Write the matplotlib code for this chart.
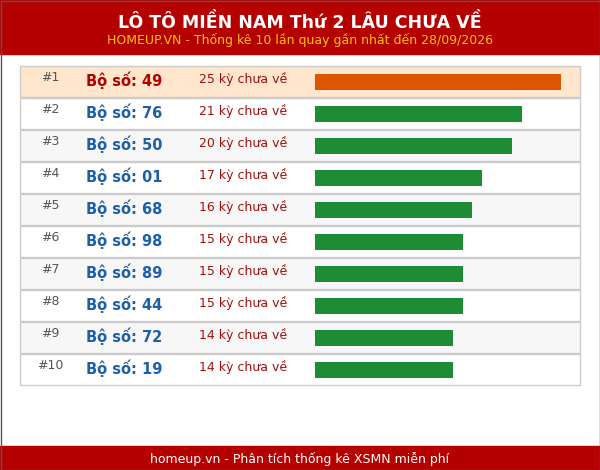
import matplotlib.pyplot as plt
from matplotlib.patches import Rectangle

title = "LÔ TÔ MIỀN NAM Thứ 2 LÂU CHƯA VỀ"
subtitle = "HOMEUP.VN - Thống kê 10 lần quay gần nhất đến 28/09/2026"
footer = "homeup.vn - Phân tích thống kê XSMN miễn phí"
numbers = ["49", "76", "50", "01", "68", "98", "89", "44", "72", "19"]
gaps = [25, 21, 20, 17, 16, 15, 15, 15, 14, 14]

fig = plt.figure(figsize=(6, 4.7), dpi=100)
ax = fig.add_axes([0, 0, 1, 1])
ax.set_xlim(0, 600)
ax.set_ylim(470, 0)
ax.axis("off")

# header / footer
ax.add_patch(Rectangle((0, 0), 600, 54, color="#b50000"))
ax.add_patch(Rectangle((0, 446), 600, 24, color="#b50000"))
ax.add_patch(Rectangle((0.5, 0.5), 599, 469, fill=False, ec="#555555", lw=1))
ax.text(300, 22, title, ha="center", va="center", color="white", fontsize=12.5, fontweight="bold")
ax.text(300, 40, subtitle, ha="center", va="center", color="#ffc20e", fontsize=9)
ax.text(300, 459, footer, ha="center", va="center", color="white", fontsize=9)

scale = 246 / 25
for i, (n, g) in enumerate(zip(numbers, gaps)):
    top = 66 + 32 * i
    cy = top + 15.5
    bg = "#ffe6cc" if i == 0 else ("#f7f7f7" if i % 2 == 0 else "white")
    ax.add_patch(Rectangle((20, top), 560, 31, fc=bg, ec="#cccccc", lw=1))
    ax.text(50, cy - 4, f"#{i+1}", ha="center", va="center", color="#555555", fontsize=9)
    col = "#b30000" if i == 0 else "#1f5fa8"
    ax.text(86, cy - 1, f"Bộ số: {n}", ha="left", va="center", color=col, fontsize=10.5,
            fontweight="bold")
    ax.text(199, cy - 2, f"{g} kỳ chưa về", ha="left", va="center", color="#a01010", fontsize=9)
    ax.barh(cy, g * scale, left=315, height=16,
            color="#dd5500" if i == 0 else "#1e8c35")

fig.savefig("out.png", dpi=100)
